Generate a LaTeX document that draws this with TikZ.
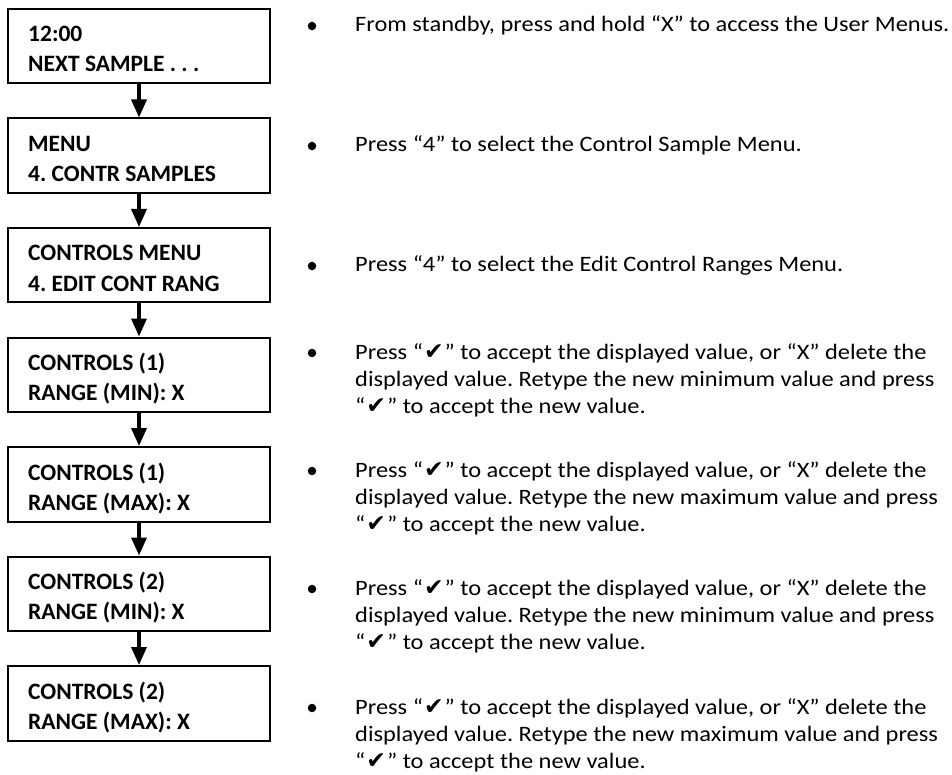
\documentclass[tikz,border=0pt]{standalone}
\usepackage{fontspec}
\setmainfont{Carlito}
\newfontfamily\descfont[FakeStretch=1.11]{Carlito}
\newfontfamily\symfont{DejaVu Sans}
\usetikzlibrary{arrows.meta}
\frenchspacing
\newcommand{\mychk}{\hspace{1pt}\scalebox{1.3}{\symfont\fontsize{18}{18}\selectfont ✔}\hspace{1pt}}
\tikzset{
  boxnode/.style={draw=black, line width=2pt, minimum width=262pt, minimum height=74.5pt, inner sep=0pt, anchor=north west},
  boxtext/.style={anchor=base west, inner sep=0pt, font=\fontsize{23.5}{28}\selectfont\bfseries},
  desctext/.style={anchor=base west, inner sep=0pt, font=\descfont\fontsize{22}{27}\selectfont},
  bulletdot/.style={circle, fill=black, inner sep=0pt, minimum size=8.5pt},
  flowarrow/.style={line width=3.5pt, -{Triangle[length=18pt,width=15pt]}}
}
\begin{document}
\begin{tikzpicture}[x=1pt,y=-1pt]
\useasboundingbox (0,0) rectangle (952,775);
% boxes
\node[boxnode] (b1) at (7,8) {};
\node[boxnode] (b2) at (7,117.5) {};
\node[boxnode] (b3) at (7,227) {};
\node[boxnode] (b4) at (7,336.5) {};
\node[boxnode] (b5) at (7,446) {};
\node[boxnode] (b6) at (7,555.5) {};
\node[boxnode] (b7) at (7,665) {};
% box texts
\node[boxtext] (t1a) at (28,42) {12:00};
\node[boxtext] (t1b) at (28,72) {NEXT SAMPLE . . .};
\node[boxtext] (t2a) at (28,151.5) {MENU};
\node[boxtext] (t2b) at (28,181.5) {4. CONTR SAMPLES};
\node[boxtext] (t3a) at (28,261) {CONTROLS MENU};
\node[boxtext] (t3b) at (28,291) {4. EDIT CONT RANG};
\node[boxtext] (t4a) at (28,370.5) {CONTROLS (1)};
\node[boxtext] (t4b) at (28,400.5) {RANGE (MIN): X};
\node[boxtext] (t5a) at (28,480) {CONTROLS (1)};
\node[boxtext] (t5b) at (28,510) {RANGE (MAX): X};
\node[boxtext] (t6a) at (28,589.5) {CONTROLS (2)};
\node[boxtext] (t6b) at (28,619.5) {RANGE (MIN): X};
\node[boxtext] (t7a) at (28,699) {CONTROLS (2)};
\node[boxtext] (t7b) at (28,729) {RANGE (MAX): X};
% arrows
\draw[flowarrow] (b1.south) -- (b2.north);
\draw[flowarrow] (b2.south) -- (b3.north);
\draw[flowarrow] (b3.south) -- (b4.north);
\draw[flowarrow] (b4.south) -- (b5.north);
\draw[flowarrow] (b5.south) -- (b6.north);
\draw[flowarrow] (b6.south) -- (b7.north);
% bullets
\node[bulletdot] (d1) at (312,26) {};
\node[bulletdot] (d2) at (312,146) {};
\node[bulletdot] (d3) at (312,266) {};
\node[bulletdot] (d4) at (312,353) {};
\node[bulletdot] (d5) at (312,471) {};
\node[bulletdot] (d6) at (312,589) {};
\node[bulletdot] (d7) at (312,708) {};
% descriptions
\node[desctext] (r1) at (355,32) {From standby, press and hold “X” to access the User Menus.};
\node[desctext] (r2) at (355,152) {Press “4” to select the Control Sample Menu.};
\node[desctext] (r3) at (355,272) {Press “4” to select the Edit Control Ranges Menu.};
\node[desctext] (r4a) at (355,359) {Press “\mychk” to accept the displayed value, or “X” delete the};
\node[desctext] (r4b) at (355,386) {displayed value. Retype the new minimum value and press};
\node[desctext] (r4c) at (355,413) {“\mychk” to accept the new value.};
\node[desctext] (r5a) at (355,477) {Press “\mychk” to accept the displayed value, or “X” delete the};
\node[desctext] (r5b) at (355,504) {displayed value. Retype the new maximum value and press};
\node[desctext] (r5c) at (355,531) {“\mychk” to accept the new value.};
\node[desctext] (r6a) at (355,595) {Press “\mychk” to accept the displayed value, or “X” delete the};
\node[desctext] (r6b) at (355,622) {displayed value. Retype the new minimum value and press};
\node[desctext] (r6c) at (355,649) {“\mychk” to accept the new value.};
\node[desctext] (r7a) at (355,714) {Press “\mychk” to accept the displayed value, or “X” delete the};
\node[desctext] (r7b) at (355,741) {displayed value. Retype the new maximum value and press};
\node[desctext] (r7c) at (355,768) {“\mychk” to accept the new value.};
\end{tikzpicture}
\end{document}
